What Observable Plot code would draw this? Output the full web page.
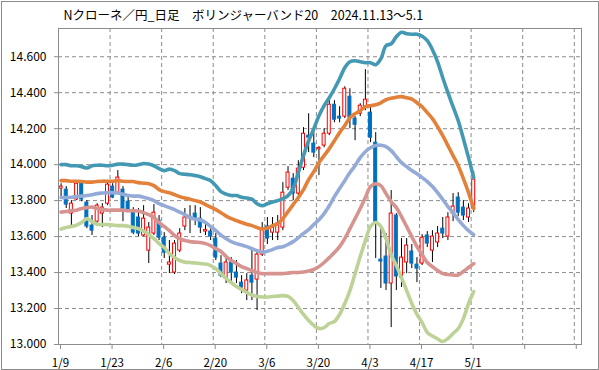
<!DOCTYPE html>
<html><head><meta charset="utf-8">
<script src="https://cdn.jsdelivr.net/npm/d3@7"></script>
<script src="https://cdn.jsdelivr.net/npm/@observablehq/plot@0.6"></script>
<style>
html,body{margin:0;padding:0;background:#fff;}
#wrap{position:relative;width:599px;height:370px;overflow:hidden;background:#fff;}
#border{position:absolute;left:1px;top:1px;width:596px;height:367px;border:1px solid #8c8c8c;pointer-events:none;box-sizing:content-box;}
</style></head><body>
<div id="wrap"><div id="border"></div></div>
<script>
const title = "Nクローネ／円_日足　ボリンジャーバンド20　2024.11.13～5.1";
const xTickLabels = ["1/9","1/23","2/6","2/20","3/6","3/20","4/3","4/17","5/1","",""];
const yTicks = [13.0,13.2,13.4,13.6,13.8,14.0,14.2,14.4,14.6];

const open = [13.867,13.861,13.728,13.806,13.894,13.789,13.661,13.683,13.728,13.783,13.878,13.844,13.861,13.794,13.744,13.706,13.606,13.522,13.617,13.689,13.594,13.444,13.400,13.522,13.656,13.700,13.728,13.700,13.628,13.628,13.589,13.450,13.367,13.456,13.400,13.344,13.300,13.383,13.361,13.500,13.656,13.622,13.622,13.650,13.872,13.922,13.839,13.983,14.161,14.117,14.085,14.106,14.172,14.333,14.267,14.267,14.378,14.256,14.283,14.322,14.289,14.122,13.472,13.489,13.339,13.717,13.372,13.456,13.517,13.444,13.450,13.606,13.522,13.567,13.644,13.600,13.728,13.817,13.761,13.706,13.756];
const high = [13.894,13.878,13.800,13.906,13.900,13.800,13.717,13.783,13.783,13.900,13.894,13.967,13.878,13.817,13.761,13.756,13.772,13.678,13.778,13.717,13.622,13.578,13.578,13.644,13.756,13.772,13.772,13.761,13.672,13.644,13.617,13.494,13.483,13.483,13.467,13.383,13.394,13.539,13.522,13.678,13.706,13.706,13.717,13.900,13.989,13.950,14.022,14.206,14.283,14.206,14.100,14.200,14.356,14.356,14.322,14.433,14.422,14.267,14.339,14.528,14.333,14.178,13.656,13.617,13.856,13.728,13.589,13.589,13.556,13.483,13.611,13.628,13.633,13.656,13.706,13.733,13.839,13.844,13.800,13.783,13.961];
const low = [13.811,13.756,13.661,13.800,13.794,13.644,13.606,13.672,13.650,13.772,13.811,13.833,13.683,13.733,13.611,13.600,13.600,13.450,13.606,13.578,13.478,13.394,13.389,13.511,13.633,13.617,13.661,13.617,13.606,13.578,13.467,13.372,13.339,13.344,13.339,13.283,13.244,13.244,13.189,13.489,13.556,13.578,13.578,13.633,13.856,13.800,13.828,13.967,14.067,14.039,13.939,14.094,14.161,14.233,14.233,14.256,14.200,14.133,14.267,14.300,14.122,13.478,13.311,13.300,13.094,13.300,13.317,13.394,13.422,13.344,13.439,13.539,13.456,13.539,13.589,13.578,13.683,13.711,13.689,13.678,13.733];
const close = [13.878,13.778,13.783,13.894,13.806,13.656,13.633,13.772,13.761,13.889,13.817,13.928,13.750,13.744,13.622,13.617,13.700,13.650,13.733,13.594,13.511,13.456,13.561,13.617,13.706,13.711,13.700,13.650,13.636,13.600,13.483,13.383,13.456,13.400,13.372,13.317,13.356,13.344,13.500,13.644,13.589,13.650,13.672,13.844,13.956,13.839,13.978,14.172,14.150,14.067,14.093,14.172,14.333,14.250,14.256,14.422,14.261,14.222,14.328,14.361,14.150,13.678,13.461,13.339,13.728,13.378,13.483,13.550,13.450,13.422,13.594,13.561,13.600,13.617,13.617,13.706,13.767,13.733,13.717,13.756,13.917];

const upper2 = [14.000,14.000,13.994,13.994,13.989,13.981,13.994,13.997,13.997,13.994,13.997,14.003,14.003,14.000,13.997,14.000,14.006,14.003,13.994,13.978,13.967,13.975,13.967,13.950,13.947,13.944,13.939,13.933,13.922,13.911,13.883,13.850,13.836,13.828,13.828,13.819,13.814,13.808,13.783,13.772,13.783,13.792,13.800,13.811,13.828,13.867,13.956,14.050,14.133,14.200,14.272,14.328,14.372,14.422,14.478,14.539,14.572,14.578,14.572,14.567,14.567,14.556,14.589,14.661,14.672,14.711,14.736,14.728,14.725,14.725,14.714,14.689,14.639,14.572,14.483,14.400,14.322,14.244,14.144,14.039,13.928];
const upper1 = [13.911,13.911,13.908,13.908,13.906,13.903,13.903,13.906,13.908,13.908,13.908,13.911,13.908,13.906,13.906,13.900,13.897,13.894,13.883,13.861,13.850,13.844,13.833,13.822,13.814,13.808,13.800,13.792,13.778,13.764,13.750,13.733,13.714,13.700,13.689,13.678,13.669,13.661,13.650,13.642,13.647,13.661,13.672,13.700,13.739,13.778,13.817,13.861,13.917,13.961,14.011,14.050,14.089,14.133,14.178,14.217,14.261,14.283,14.300,14.322,14.328,14.333,14.344,14.361,14.369,14.375,14.378,14.372,14.364,14.344,14.322,14.289,14.256,14.211,14.161,14.106,14.050,13.994,13.922,13.844,13.756];
const middle = [13.817,13.817,13.819,13.822,13.825,13.828,13.833,13.839,13.842,13.844,13.844,13.842,13.836,13.828,13.825,13.825,13.819,13.811,13.800,13.783,13.772,13.761,13.750,13.736,13.722,13.706,13.697,13.692,13.678,13.656,13.633,13.608,13.589,13.572,13.561,13.553,13.544,13.533,13.522,13.514,13.519,13.528,13.539,13.544,13.556,13.572,13.594,13.617,13.639,13.667,13.694,13.728,13.772,13.822,13.867,13.911,13.956,13.994,14.039,14.072,14.094,14.106,14.108,14.100,14.078,14.044,14.011,13.989,13.967,13.950,13.928,13.906,13.878,13.844,13.806,13.767,13.733,13.694,13.661,13.633,13.611];
const lower1 = [13.736,13.739,13.744,13.747,13.756,13.761,13.764,13.756,13.750,13.747,13.747,13.747,13.747,13.744,13.744,13.742,13.733,13.722,13.706,13.678,13.656,13.633,13.606,13.589,13.578,13.572,13.569,13.567,13.561,13.550,13.533,13.517,13.489,13.467,13.450,13.433,13.422,13.411,13.400,13.394,13.394,13.394,13.394,13.394,13.397,13.400,13.400,13.403,13.408,13.417,13.433,13.456,13.483,13.511,13.544,13.589,13.644,13.700,13.756,13.817,13.878,13.894,13.883,13.839,13.794,13.761,13.711,13.656,13.600,13.544,13.500,13.456,13.433,13.411,13.394,13.389,13.386,13.386,13.406,13.428,13.450];
const lower2 = [13.642,13.650,13.656,13.664,13.678,13.700,13.683,13.669,13.667,13.667,13.664,13.661,13.661,13.658,13.650,13.644,13.631,13.611,13.589,13.561,13.539,13.506,13.483,13.467,13.458,13.456,13.453,13.450,13.447,13.439,13.422,13.394,13.367,13.344,13.322,13.306,13.289,13.275,13.267,13.264,13.264,13.267,13.269,13.272,13.267,13.244,13.206,13.167,13.133,13.106,13.089,13.094,13.117,13.128,13.167,13.228,13.300,13.394,13.489,13.578,13.656,13.678,13.656,13.589,13.500,13.439,13.372,13.300,13.228,13.167,13.122,13.067,13.047,13.031,13.017,13.033,13.061,13.089,13.144,13.228,13.294];

const bands = [
  {values: upper2, color: "#4399B3"},
  {values: upper1, color: "#E3803A"},
  {values: middle, color: "#95ABD7"},
  {values: lower1, color: "#D6938F"},
  {values: lower2, color: "#BDD297"}
];

// one slot per trading day; tick every 10 trading days
const candles = open.map((o, i) => ({i, o, h: high[i], l: low[i], c: close[i]}));
const ups = candles.filter(d => d.c >= d.o);
const downs = candles.filter(d => d.c < d.o);
const xTicks = xTickLabels.map((_, k) => k * 10);
const grid = "#8c8c8c";

const chart = Plot.plot({
  width: 599, height: 370,
  marginLeft: 58, marginRight: 18, marginTop: 28, marginBottom: 26,
  x: {domain: [0, 101.4], axis: null},
  y: {domain: [13, 14.757], axis: null},
  style: {fontFamily: "'Noto Sans CJK JP','Noto Sans',sans-serif", background: "transparent", color: "black"},
  marks: [
    Plot.ruleY(yTicks.slice(1), {stroke: grid, strokeDasharray: "4,3"}),
    Plot.ruleX(xTicks.slice(1), {stroke: grid, strokeDasharray: "4,3"}),
    Plot.ruleX(candles, {x: d => d.i + 0.5, y1: "l", y2: "h", stroke: "black", strokeWidth: 1}),
    Plot.rect(ups, {x1: d => d.i + 0.21, x2: d => d.i + 0.79, y1: "o", y2: "c", fill: "white", stroke: "#FF0000", strokeWidth: 1}),
    Plot.rect(downs, {x1: d => d.i + 0.21, x2: d => d.i + 0.79, y1: "o", y2: "c", fill: "#0070C0", stroke: "#0070C0", strokeWidth: 1}),
    ...bands.map(b => Plot.line(b.values, {x: (d, i) => i + 0.5, y: d => d, stroke: b.color, strokeWidth: 3.6, curve: "catmull-rom", strokeLinejoin: "round", strokeLinecap: "round"})),
    Plot.frame({stroke: grid}),
    Plot.axisY(yTicks, {tickSize: 4, tickPadding: 8, tickFormat: d => d.toFixed(3), fontSize: 12, stroke: grid, fill: "black", label: null}),
    Plot.axisX(xTicks, {tickSize: 5, tickPadding: 9, tickFormat: (d, k) => xTickLabels[k], fontSize: 11.5, dx: 2, stroke: grid, fill: "black", label: null}),
    Plot.text([title], {frameAnchor: "top-left", dx: 5, dy: -13, textAnchor: "start", lineAnchor: "middle", fontSize: 12.5, fill: "black"})
  ]
});
document.getElementById("wrap").prepend(chart);
</script>
</body></html>
